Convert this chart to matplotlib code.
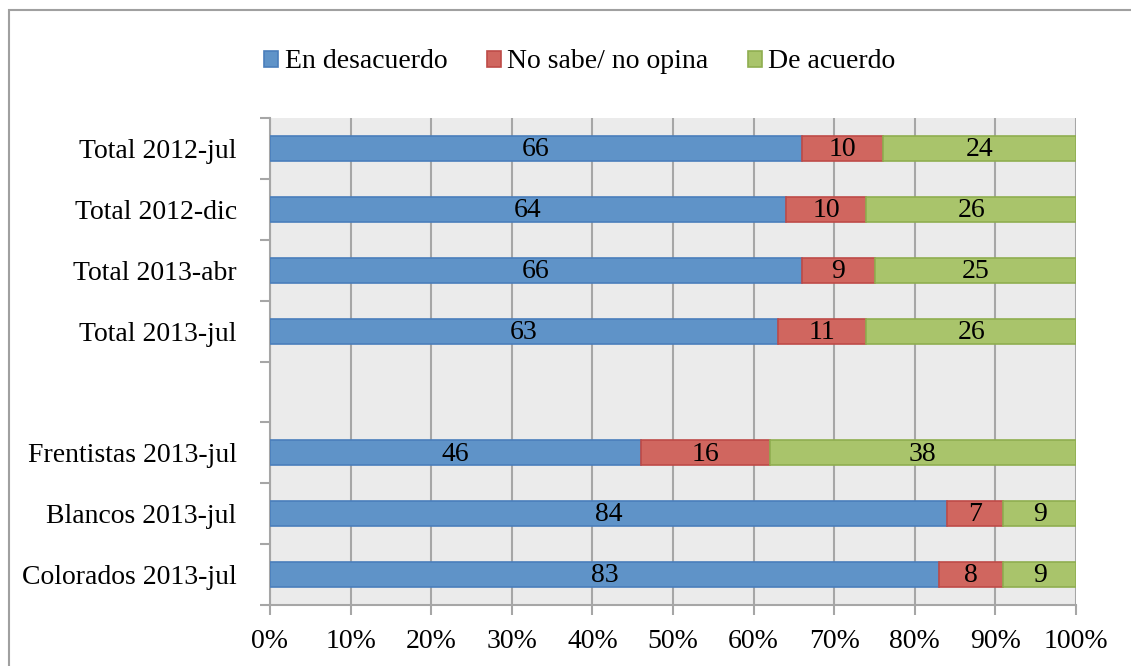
import matplotlib.pyplot as plt
import numpy as np
from matplotlib.patches import Rectangle

categories = ['Total 2012-jul', 'Total 2012-dic', 'Total 2013-abr', 'Total 2013-jul',
              '', 'Frentistas 2013-jul', 'Blancos 2013-jul', 'Colorados 2013-jul']
desacuerdo = [66, 64, 66, 63, 0, 46, 84, 83]
no_sabe = [10, 10, 9, 11, 0, 16, 7, 8]
de_acuerdo = [24, 26, 25, 26, 0, 38, 9, 9]
series_names = ['En desacuerdo', 'No sabe/ no opina', 'De acuerdo']

fills = ['#5f93c8', '#d0665f', '#a9c46b']
edges = ['#4a7ebb', '#be4b48', '#8fae50']

plt.rcParams['font.family'] = ['Liberation Serif', 'DejaVu Serif']
FS = 20

fig = plt.figure(figsize=(11.31, 6.66), dpi=100)
W, H = 1131, 666
ax = fig.add_axes([270 / W, 1 - 605 / H, (1076 - 270) / W, (605 - 118) / H])
ax.set_facecolor('#ebebeb')

# outer chart border
fig.patches.append(Rectangle((9 / W, -0.1), 1.2, 1 - 10 / H + 0.1, transform=fig.transFigure,
                             fill=False, edgecolor='#a0a0a0', linewidth=1.5))

y = np.arange(len(categories))
keep = np.array([v > 0 for v in desacuerdo])  # skip the blank spacer row
left = np.zeros(len(categories))
for vals, name, fc, ec in zip([desacuerdo, no_sabe, de_acuerdo], series_names, fills, edges):
    vals = np.array(vals, dtype=float)
    bars = ax.barh(y[keep], vals[keep], left=left[keep], height=0.41, color=fc, edgecolor=ec,
                   linewidth=1.2, label=name, zorder=3)
    for b, v in zip(bars, vals[keep]):
        ax.text(b.get_x() + b.get_width() / 2, b.get_y() + b.get_height() / 2 + 0.02, f'{int(v)}',
                ha='center', va='center', fontsize=FS, color='black', zorder=4)
    left += vals

ax.set_xlim(0, 100)
ax.set_ylim(len(categories) - 0.5, -0.5)
ax.set_xticks(np.arange(0, 101, 10))
ax.set_xticklabels([f'{v}%' for v in range(0, 101, 10)], fontsize=FS)
ax.set_yticks(y)
ax.set_yticklabels(categories, fontsize=FS)
ax.set_yticks(np.arange(-0.5, len(categories), 1), minor=True)
ax.tick_params(axis='y', which='major', length=0, pad=24)
ax.tick_params(axis='y', which='minor', length=7, width=1.5, color='#a6a6a6')
ax.tick_params(axis='x', length=7, width=1.5, color='#a6a6a6', pad=10)
ax.xaxis.grid(True, color='#a6a6a6', linewidth=1.5, zorder=0)
ax.set_axisbelow(True)
for s in ['top', 'right']:
    ax.spines[s].set_visible(False)
for s in ['left', 'bottom']:
    ax.spines[s].set_color('#a6a6a6')
    ax.spines[s].set_linewidth(1.5)

fig.legend(loc='center', bbox_to_anchor=(580 / W, 1 - 62 / H), ncol=3, frameon=False,
           fontsize=FS, handlelength=0.5, handleheight=0.5, handletextpad=0.25,
           columnspacing=1.4, borderpad=0)

fig.savefig('out.png', dpi=100)
